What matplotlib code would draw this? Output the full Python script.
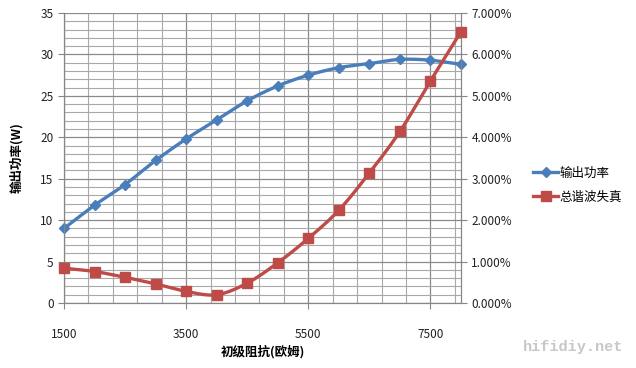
import numpy as np
import matplotlib
matplotlib.use('Agg')
from matplotlib import pyplot as plt
from matplotlib.ticker import MultipleLocator, FixedLocator

plt.rcParams['font.family'] = ['Noto Sans CJK SC', 'DejaVu Sans']

# 数据
impedance = [1500, 2000, 2500, 3000, 3500, 4000, 4500, 5000, 5500, 6000, 6500, 7000, 7500, 8000]
power = [9.0, 11.8, 14.3, 17.2, 19.8, 22.1, 24.4, 26.2, 27.5, 28.4, 28.9, 29.4, 29.3, 28.8]
thd = [0.84, 0.76, 0.62, 0.46, 0.28, 0.20, 0.48, 0.97, 1.56, 2.24, 3.14, 4.14, 5.36, 6.55]  # %
xticks = [1500, 3500, 5500, 7500]

blue = '#4A7EBB'
red = '#BE4B48'


def smooth(x, y, n=20):
    # Catmull-Rom 曲线, 类似 Excel 平滑线
    x = np.asarray(x, float)
    y = np.asarray(y, float)
    px = np.concatenate([[2 * x[0] - x[1]], x, [2 * x[-1] - x[-2]]])
    py = np.concatenate([[2 * y[0] - y[1]], y, [2 * y[-1] - y[-2]]])
    t = np.linspace(0, 1, n, endpoint=False)
    xs, ys = [], []
    for i in range(1, len(px) - 2):
        for p, out in ((px, xs), (py, ys)):
            p0, p1, p2, p3 = p[i - 1], p[i], p[i + 1], p[i + 2]
            out.extend(0.5 * (2 * p1 + (-p0 + p2) * t + (2 * p0 - 5 * p1 + 4 * p2 - p3) * t ** 2
                              + (-p0 + 3 * p1 - 3 * p2 + p3) * t ** 3))
    xs.append(x[-1])
    ys.append(y[-1])
    return np.array(xs), np.array(ys)


fig = plt.figure(figsize=(6.36, 3.68), dpi=100)
ax = fig.add_axes([64 / 636, 1 - 303 / 368, (461 - 64) / 636, (303 - 13) / 368])
ax2 = ax.twinx()

ax.set_xlim(1500, 8000)
ax.set_ylim(0, 35)
ax2.set_ylim(0, 7)

# 网格
ax.xaxis.set_major_locator(FixedLocator(xticks))
ax.xaxis.set_minor_locator(MultipleLocator(400, offset=1500 % 400))
ax.yaxis.set_major_locator(MultipleLocator(5))
ax.yaxis.set_minor_locator(MultipleLocator(1))
ax.grid(which='major', color='#8a8a8a', lw=0.9)
ax.grid(which='minor', color='#a8a8a8', lw=0.8)
ax.set_axisbelow(True)
ax.tick_params(which='minor', length=0)
ax.tick_params(which='major', length=4, color='#868686', labelsize=8.5, colors='#222222')
ax.tick_params(axis='x', pad=14)
ax2.yaxis.set_major_locator(MultipleLocator(1))
ax2.yaxis.set_major_formatter(plt.FuncFormatter(lambda v, p: '%.3f%%' % v))
ax2.tick_params(length=4, color='#868686', labelsize=8.5, colors='#222222')
for a in (ax, ax2):
    for s in a.spines.values():
        s.set_visible(False)
    a.spines['left'].set_visible(True)
    a.spines['right'].set_visible(True)
    a.spines['bottom'].set_visible(True)
    a.spines['left'].set_color('#868686')
    a.spines['right'].set_color('#868686')
    a.spines['bottom'].set_color('#868686')

# 曲线
sx, sy = smooth(impedance, power)
ax.plot(sx, sy, color=blue, lw=2.4, zorder=3)
ax.plot(impedance, power, ls='none', marker='D', ms=5.5, color=blue, zorder=4,
        label='输出功率', clip_on=False)
tx, ty = smooth(impedance, thd)
ax2.plot(tx, ty, color=red, lw=2.4, zorder=3)
ax2.plot(impedance, thd, ls='none', marker='s', ms=7, color=red, zorder=4,
         label='总谐波失真', clip_on=False)

ax.set_xlabel('初级阻抗(欧姆)', fontsize=9, fontweight='bold', labelpad=3)
ax.set_ylabel('输出功率(W)', fontsize=9, fontweight='bold', labelpad=12)

h1 = plt.Line2D([], [], color=blue, lw=2.4, marker='D', ms=5.5)
h2 = plt.Line2D([], [], color=red, lw=2.4, marker='s', ms=7)
fig.legend([h1, h2], ['输出功率', '总谐波失真'], loc='center left',
           bbox_to_anchor=(522 / 636, 1 - 185 / 368), frameon=False, fontsize=9,
           handlelength=2.0, handletextpad=0.1, labelspacing=0.9)

fig.text(573 / 636, 1 - 347 / 368, 'hifidiy.net', ha='center', va='center',
         family='Liberation Mono', fontweight='bold', fontsize=11, color='#c8c8c8')

fig.savefig('out.png', dpi=100)
